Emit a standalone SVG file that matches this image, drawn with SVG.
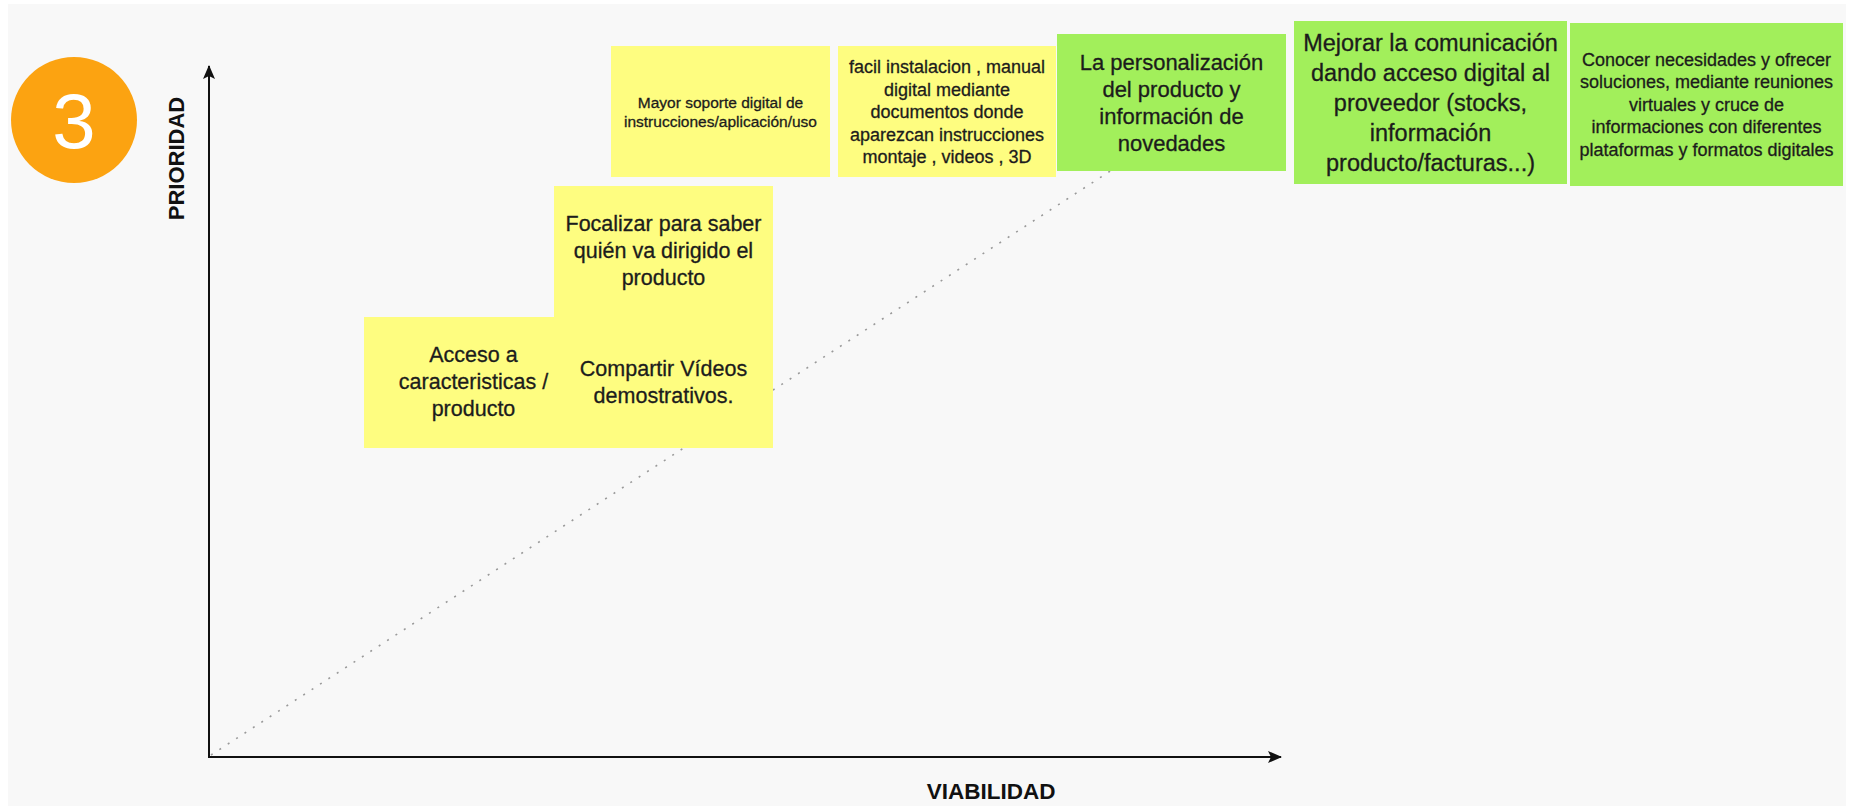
<svg xmlns="http://www.w3.org/2000/svg" width="1849" height="808" viewBox="0 0 1849 808">
<style>
.t{font-family:"Liberation Sans",Arial,sans-serif;fill:#1c1c1c;stroke:#1c1c1c;stroke-width:0.3;text-anchor:middle}
.y{fill:#fefd80}
.g{fill:#a2ef5b}
.ax{stroke:#111;stroke-width:2;fill:none}
.lbl{font-family:"Liberation Sans",Arial,sans-serif;font-weight:bold;fill:#111;text-anchor:middle}
</style>
<defs>
<marker id="ah" viewBox="0 0 14 12" refX="13" refY="6" markerWidth="14" markerHeight="12" markerUnits="userSpaceOnUse" orient="auto">
<path d="M0,0 L14,6 L0,12 L3,6 z" fill="#111"/>
</marker>
</defs>
<rect x="0" y="0" width="1849" height="808" fill="#ffffff"/>
<rect x="8" y="4" width="1838" height="802" fill="#f8f8f8"/>

<g id="badge">
<circle cx="74" cy="120" r="63" fill="#fca311"/>
<text x="74" y="148" font-family="'Liberation Sans',Arial,sans-serif" font-size="78" fill="#ffffff" text-anchor="middle">3</text>
</g>

<g id="connectors">
<line x1="211" y1="755" x2="1118" y2="166" stroke="#9a9a9a" stroke-width="1.6" stroke-dasharray="2 8"/>
<line class="ax" x1="209" y1="758" x2="209" y2="66" marker-end="url(#ah)"/>
<line class="ax" x1="208" y1="757" x2="1281" y2="757" marker-end="url(#ah)"/>
</g>

<g id="axis-labels">
<text class="lbl" font-size="22" transform="translate(184,158.5) rotate(-90)" x="0" y="0">PRIORIDAD</text>
<text class="lbl" font-size="22.5" x="991" y="799">VIABILIDAD</text>
</g>

<g id="n-mayor">
<rect class="y" x="611" y="46" width="219" height="131"/>
<text class="t" font-size="15.5" x="720.5"><tspan x="720.5" y="108">Mayor soporte digital de</tspan><tspan x="720.5" y="127">instrucciones/aplicación/uso</tspan></text>
</g>

<g id="n-facil">
<rect class="y" x="838" y="46" width="218" height="131"/>
<text class="t" font-size="18" x="947"><tspan x="947" y="73">facil instalacion , manual</tspan><tspan x="947" y="95.5">digital mediante</tspan><tspan x="947" y="118">documentos donde</tspan><tspan x="947" y="140.5">aparezcan instrucciones</tspan><tspan x="947" y="163">montaje , videos , 3D</tspan></text>
</g>

<g id="n-personalizacion">
<rect class="g" x="1057" y="34" width="229" height="137"/>
<text class="t" font-size="22" x="1171.5"><tspan x="1171.5" y="69.5">La personalización</tspan><tspan x="1171.5" y="96.5">del producto y</tspan><tspan x="1171.5" y="123.5">información de</tspan><tspan x="1171.5" y="150.5">novedades</tspan></text>
</g>

<g id="n-mejorar">
<rect class="g" x="1294" y="21" width="273" height="163"/>
<text class="t" font-size="23.5" x="1430.5"><tspan x="1430.5" y="51">Mejorar la comunicación</tspan><tspan x="1430.5" y="81">dando acceso digital al</tspan><tspan x="1430.5" y="111">proveedor (stocks,</tspan><tspan x="1430.5" y="141">información</tspan><tspan x="1430.5" y="171">producto/facturas...)</tspan></text>
</g>

<g id="n-conocer">
<rect class="g" x="1570" y="23" width="273" height="163"/>
<text class="t" font-size="18" x="1706.5"><tspan x="1706.5" y="65.5">Conocer necesidades y ofrecer</tspan><tspan x="1706.5" y="88">soluciones, mediante reuniones</tspan><tspan x="1706.5" y="110.5">virtuales y cruce de</tspan><tspan x="1706.5" y="133">informaciones con diferentes</tspan><tspan x="1706.5" y="155.5">plataformas y formatos digitales</tspan></text>
</g>

<g id="n-focalizar">
<rect class="y" x="554" y="186" width="219" height="131"/>
<text class="t" font-size="21.5" x="663.5"><tspan x="663.5" y="230.5">Focalizar para saber</tspan><tspan x="663.5" y="257.5">quién va dirigido el</tspan><tspan x="663.5" y="284.5">producto</tspan></text>
</g>

<g id="n-acceso">
<rect class="y" x="364" y="317" width="219" height="131"/>
<text class="t" font-size="21.5" x="473.5"><tspan x="473.5" y="361.5">Acceso a</tspan><tspan x="473.5" y="388.5">caracteristicas /</tspan><tspan x="473.5" y="415.5">producto</tspan></text>
</g>

<g id="n-compartir">
<rect class="y" x="554" y="317" width="219" height="131"/>
<text class="t" font-size="21.5" x="663.5"><tspan x="663.5" y="376">Compartir Vídeos</tspan><tspan x="663.5" y="403">demostrativos.</tspan></text>
</g>
</svg>
